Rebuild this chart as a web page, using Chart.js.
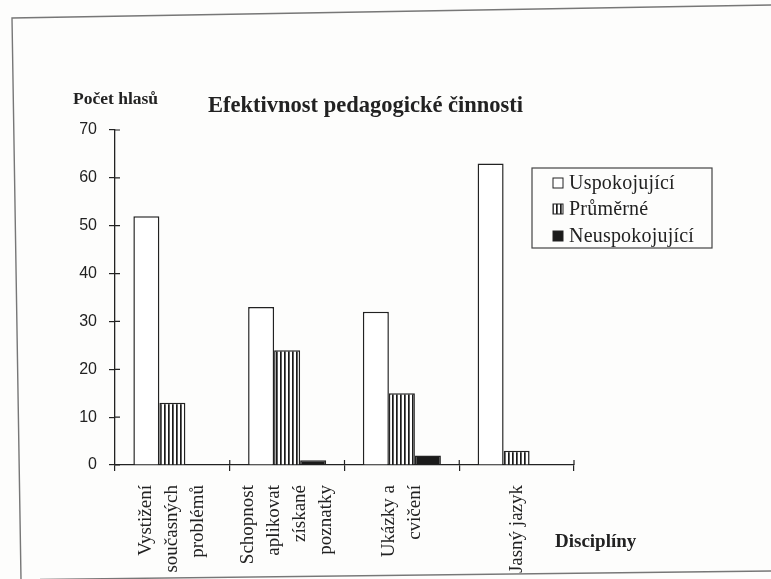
<!DOCTYPE html>
<html>
<head>
<meta charset="utf-8">
<script src="https://cdn.jsdelivr.net/npm/chart.js@4/dist/chart.umd.min.js"></script>
<style>
  html, body { margin: 0; padding: 0; background: #fff; }
  #wrap { width: 771px; height: 579px; }
</style>
</head>
<body>
<div id="wrap"><canvas id="chart" width="771" height="579"></canvas></div>
<script>
var categories = [
    ['Vystižení', 'současných', 'problémů'],
    ['Schopnost', 'aplikovat', 'získané', 'poznatky'],
    ['Ukázky a', 'cvičení'],
    ['Jasný jazyk']
];
var uspokojujici   = [52, 33, 32, 63];
var prumerne       = [13, 24, 15, 3];
var neuspokojujici = [0, 1, 2, 0];
var yTicks = [0, 10, 20, 30, 40, 50, 60, 70];

var chartTitle = 'Efektivnost pedagogické činnosti';
var yTitle = 'Počet hlasů';
var xTitle = 'Disciplíny';

var serif = '"Liberation Serif", "Times New Roman", serif';
var ink = '#222';

var makeStripes = function(){
    var pc = document.createElement('canvas');
    pc.width = 4;
    pc.height = 4;
    var c = pc.getContext('2d');
    c.fillStyle = '#fff';
    c.fillRect(0, 0, 4, 4);
    c.fillStyle = '#1a1a1a';
    c.fillRect(0, 0, 1.7, 4);
    return document.getElementById('chart').getContext('2d').createPattern(pc, 'repeat');
};
var stripes = makeStripes();

var paper = {
    id: 'paper',
    beforeDraw: function(chart){
        var ctx = chart.ctx;
        ctx.save();
        ctx.fillStyle = '#fdfdfc';
        ctx.fillRect(0, 0, chart.width, chart.height);
        ctx.strokeStyle = '#777';
        ctx.lineWidth = 1.4;
        ctx.beginPath();
        ctx.moveTo(21, 579);
        ctx.lineTo(12, 18);
        ctx.lineTo(771, 5);
        ctx.moveTo(40, 579.5);
        ctx.lineTo(771, 571);
        ctx.stroke();
        ctx.restore();
    },
    afterDraw: function(chart){
        var ctx = chart.ctx;
        var xs = chart.scales.x, ys = chart.scales.y;
        var area = chart.chartArea;
        var step = xs.getPixelForValue(1) - xs.getPixelForValue(0);
        ctx.save();

        // tick marks on the inner side too
        ctx.strokeStyle = ink;
        ctx.lineWidth = 1.2;
        ctx.beginPath();
        yTicks.forEach(function(v){
            var y = ys.getPixelForValue(v);
            ctx.moveTo(area.left, y);
            ctx.lineTo(area.left + 5, y);
        });
        categories.forEach(function(c, i){
            var bx = xs.getPixelForValue(i) + step / 2;
            ctx.moveTo(bx, area.bottom);
            ctx.lineTo(bx, area.bottom - 5);
        });
        ctx.stroke();

        // category labels, rotated
        ctx.fillStyle = ink;
        ctx.font = '19px ' + serif;
        ctx.textAlign = 'right';
        ctx.textBaseline = 'middle';
        var lh = 26;
        categories.forEach(function(lines, i){
            var px = xs.getPixelForValue(i);
            lines.forEach(function(line, j){
                var lx = px + (j - (lines.length - 1) / 2) * lh;
                ctx.save();
                ctx.translate(lx, area.bottom + 20);
                ctx.rotate(-Math.PI / 2);
                ctx.fillText(line, 0, 0);
                ctx.restore();
            });
        });

        // titles
        ctx.textAlign = 'left';
        ctx.textBaseline = 'alphabetic';
        ctx.font = 'bold 22.5px ' + serif;
        ctx.fillText(chartTitle, 208, 112);
        ctx.font = 'bold 17.5px ' + serif;
        ctx.fillText(yTitle, 73, 104);
        ctx.font = 'bold 19px ' + serif;
        ctx.fillText(xTitle, 555, 547);

        // legend box
        ctx.strokeStyle = '#444';
        ctx.lineWidth = 1.2;
        ctx.strokeRect(532, 168, 180, 80);
        ctx.font = '20px ' + serif;
        ctx.letterSpacing = '0.2px';
        ctx.textBaseline = 'middle';
        var rows = [183, 209, 236];
        chart.data.datasets.forEach(function(ds, i){
            ctx.fillStyle = ds.backgroundColor;
            ctx.fillRect(553, rows[i] - 5, 10, 10);
            ctx.strokeStyle = ink;
            ctx.lineWidth = 1;
            ctx.strokeRect(553, rows[i] - 5, 10, 10);
            ctx.fillStyle = ink;
            ctx.fillText(ds.label, 569, rows[i] + 1);
        });
        ctx.restore();
    }
};

var barStyle = {
    borderColor: ink,
    borderWidth: 1.5,
    borderSkipped: 'bottom',
    categoryPercentage: 0.68,
    barPercentage: 1.0
};

new Chart(document.getElementById('chart'), {
    type: 'bar',
    data: {
        labels: categories.map(function(c){ return c.join(' '); }),
        datasets: [
            Object.assign({ label: 'Uspokojující', data: uspokojujici, backgroundColor: '#fff' }, barStyle),
            Object.assign({ label: 'Průměrné', data: prumerne, backgroundColor: stripes }, barStyle),
            Object.assign({ label: 'Neuspokojující', data: neuspokojujici, backgroundColor: '#1a1a1a' }, barStyle)
        ]
    },
    options: {
        responsive: false,
        animation: false,
        layout: { padding: { top: 130, right: 197, bottom: 0, left: 0 } },
        plugins: {
            legend: { display: false },
            title: { display: false },
            tooltip: { enabled: false }
        },
        scales: {
            x: {
                afterFit: function(scale){ scale.height = 114; },
                ticks: { display: false },
                grid: { display: true, drawOnChartArea: false, offset: true, tickLength: 6, color: ink, lineWidth: 1.2 },
                border: { color: ink, width: 1.3 }
            },
            y: {
                min: 0,
                max: 70,
                afterFit: function(scale){ scale.width = 115; },
                afterBuildTicks: function(scale){
                    scale.ticks = yTicks.map(function(v){ return { value: v }; });
                },
                ticks: {
                    color: ink,
                    padding: 12,
                    font: { family: '"Liberation Sans", Arial, sans-serif', size: 16 }
                },
                grid: { drawOnChartArea: false, tickLength: 6, color: ink, lineWidth: 1.2 },
                border: { color: ink, width: 1.3 }
            }
        }
    },
    plugins: [paper]
});
</script>
</body>
</html>
